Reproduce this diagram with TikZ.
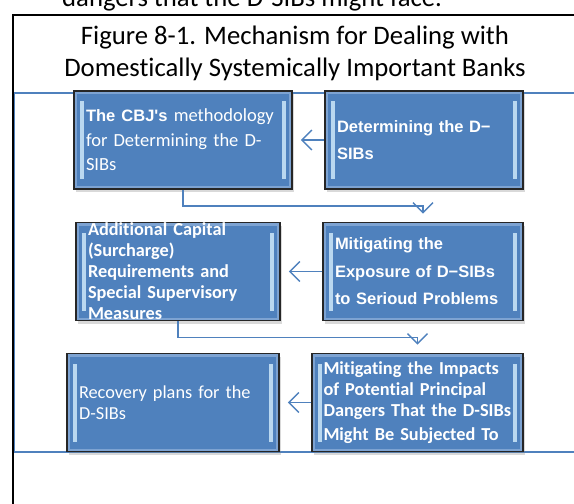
\documentclass[tikz,border=0pt]{standalone}
\usepackage{fontspec}
\setmainfont{Carlito}[Ligatures={TeX,NoCommon}]
\newfontfamily\arialfont{Liberation Sans}
\usetikzlibrary{arrows.meta,shadows}

\definecolor{boxblue}{RGB}{79,129,189}
\definecolor{bevelhi}{RGB}{205,232,250}
\definecolor{rimblue}{RGB}{125,163,210}

\tikzset{
  bankbox/.style={draw=black!85, line width=1.6pt, fill=boxblue, text=white,
    align=left, inner xsep=12pt, inner ysep=2pt, minimum height=98pt,
    drop shadow={opacity=0.3, shadow xshift=2pt, shadow yshift=-3pt},
    path picture={
      \draw[rimblue, line width=6pt] (path picture bounding box.south west) rectangle (path picture bounding box.north east);
      \fill[bevelhi, opacity=0.85] ([xshift=6pt,yshift=10pt]path picture bounding box.south west) rectangle ([xshift=10pt,yshift=-10pt]path picture bounding box.north west);
      \fill[bevelhi, opacity=0.85] ([xshift=-6pt,yshift=10pt]path picture bounding box.south east) rectangle ([xshift=-10pt,yshift=-10pt]path picture bounding box.north east);
    }},
  calreg/.style={font=\fontsize{18.5}{24.5}\selectfont},
  calbold/.style={font=\bfseries\fontsize{18.3}{21}\selectfont},
  arialbold/.style={font=\arialfont\bfseries\fontsize{16.5}{27.5}\selectfont},
  titletext/.style={font=\fontsize{26.7}{31.5}\selectfont, inner sep=0pt},
  flow/.style={draw=boxblue, line width=1.4pt, -{Straight Barb[length=10pt,width=20pt]}, shorten >=8pt}
}

\begin{document}
\begin{tikzpicture}[x=1pt,y=-1pt]

\useasboundingbox (0,0) rectangle (574,504);

% Text above the figure
\node[titletext, anchor=base west] (prev) at (62,6) {dangers that the D-SIBs might face.};

% Frames
\draw[line width=2pt] (13,520) -- (13,15) -- (590,15);
\draw[boxblue, line width=1.2pt] (590,93) -- (14.5,93) -- (14.5,452) -- (590,452);

% Title
\node[titletext, anchor=base] (title1) at (295,44) {Figure 8-1. Mechanism for Dealing with};
\node[titletext, anchor=base] (title2) at (295,76) {Domestically Systemically Important Banks};

% First row
\node[bankbox, calreg, text width=194pt] (method) at (183,140)
  {{\arialfont\bfseries\fontsize{16.5}{24.5}\selectfont The CBJ\textquotesingle s} methodology\\for Determining the D-\\SIBs};
\node[bankbox, arialbold, text width=174pt] (det) at (424,140)
  {Determining the D−\\SIBs};

% Second row
\node[bankbox, calbold, text width=180pt, inner ysep=0pt] (surch) at (178,271.5)
  {Additional Capital\\(Surcharge)\\Requirements and\\Special Supervisory\\Measures};
\node[bankbox, arialbold, text width=176pt] (mitig) at (423,271.5)
  {Mitigating the\\Exposure of D−SIBs\\to Serioud Problems};

% Third row
\node[bankbox, calreg, text width=188pt, font=\fontsize{18.3}{21}\selectfont] (recov) at (173,402.5)
  {Recovery plans for the\\D-SIBs};
\node[bankbox, calbold, text width=188pt, inner xsep=11.5pt] (impact) at (417.5,402.5)
  {Mitigating the Impacts\\of Potential Principal\\Dangers That the D-SIBs\\[3pt]Might Be Subjected To};

% Connectors
\draw[flow] (det.west) -- (method.east);
\draw[flow] (method.south) -- ++(0,16) -| (mitig.north);
\draw[flow] (mitig.west) -- (surch.east);
\draw[flow] (surch.south) -- ++(0,16) -| (impact.north);
\draw[flow] (impact.west) -- (recov.east);

\end{tikzpicture}
\end{document}
